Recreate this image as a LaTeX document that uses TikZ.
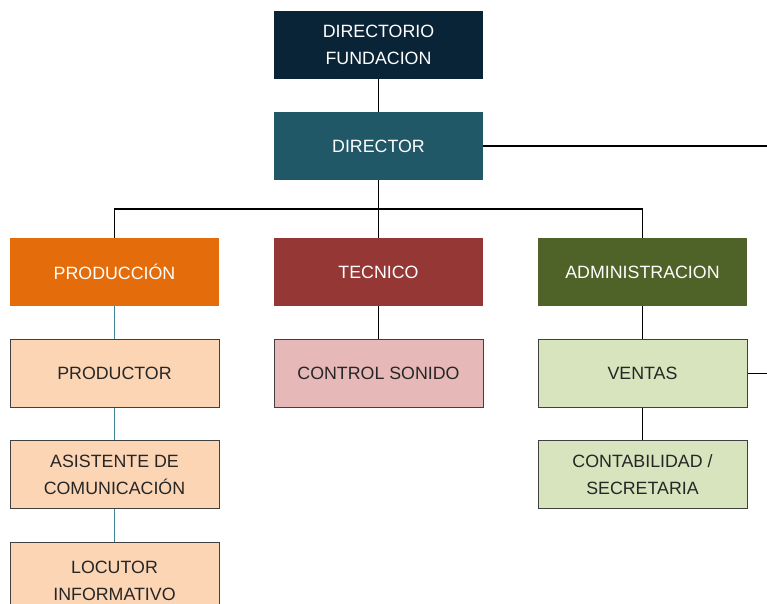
\documentclass[tikz,border=0pt]{standalone}
\usepackage{fontspec}
\setmainfont{Liberation Sans}
\usepackage{tikz}

\definecolor{navy}{HTML}{0A2437}
\definecolor{teal}{HTML}{215868}
\definecolor{orange}{HTML}{E46C0A}
\definecolor{darkred}{HTML}{953735}
\definecolor{olive}{HTML}{4F6228}
\definecolor{peach}{HTML}{FCD5B5}
\definecolor{rose}{HTML}{E6B9B8}
\definecolor{lightolive}{HTML}{D7E4BD}
\definecolor{bluegray}{HTML}{3E8494}

\begin{document}
\begin{tikzpicture}[x=1pt,y=-1pt]
        \tikzstyle{every node}=[rectangle,minimum width=209pt,minimum height=68pt,inner sep=2pt,align=center,font=\fontsize{17.8}{27}\selectfont]
        \tikzstyle{head}=[fill=#1,text=white]
        \tikzstyle{unit}=[fill=#1,draw=black!75,line width=1pt,text=black!85]
        \tikzstyle{link}=[line width=1.1pt]
        \useasboundingbox (0,0) rectangle (767,603);
        \node[head=navy] (board) at (378.5,45) {DIRECTORIO\\FUNDACION};
        \node[head=teal] (director) at (378.5,146) {DIRECTOR};
        \node[head=orange] (prod) at (114.5,272) {PRODUCCIÓN};
        \node[head=darkred] (tec) at (378.5,272) {TECNICO};
        \node[head=olive] (admin) at (642.5,272) {ADMINISTRACION};
        \node[unit=peach] (productor) at (114.5,373.5) {PRODUCTOR};
        \node[unit=peach] (asist) at (114.5,474.5) {ASISTENTE DE\\COMUNICACIÓN};
        \node[unit=peach,minimum height=78pt] (locutor) at (114.5,581) {LOCUTOR\\INFORMATIVO};
        \node[unit=rose] (sonido) at (378.5,373.5) {CONTROL SONIDO};
        \node[unit=lightolive] (ventas) at (642.5,373.5) {VENTAS};
        \node[unit=lightolive] (conta) at (642.5,474.5) {CONTABILIDAD /\\SECRETARIA};
        \coordinate (bus) at (378.5,209);
        \coordinate (east) at (767,146);
        \coordinate (east2) at (767,373.5);
        \draw[link] (board) -- (director);
        \draw[link] (director) -- (tec);
        \draw[link] (director.east) -- (east);
        \draw[link] (prod.north) |- (bus) -| (admin.north);
        \draw[link] (tec) -- (sonido);
        \draw[link] (admin) -- (ventas);
        \draw[link] (ventas) -- (conta);
        \draw[link] (ventas.east) -- (east2);
        \draw[link,bluegray] (prod) -- (productor);
        \draw[link,bluegray] (productor) -- (asist);
        \draw[link,bluegray] (asist.south) -- (asist.south |- locutor.north);
    \end{tikzpicture}
\end{document}
